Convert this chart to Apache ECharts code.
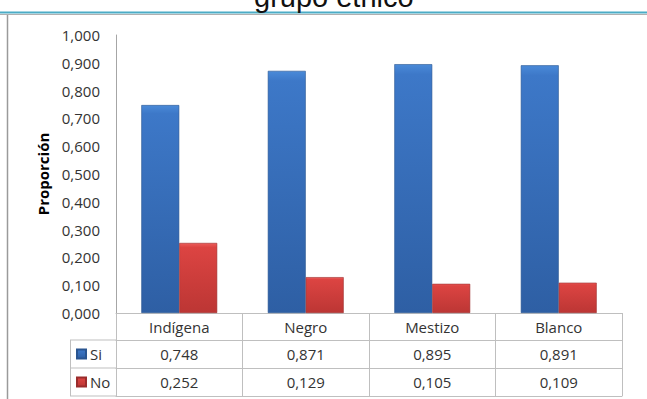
<!DOCTYPE html>
<html>
<head>
<meta charset="utf-8">
<script src="https://cdn.jsdelivr.net/npm/echarts@6/dist/echarts.min.js"></script>
<style>
html,body{margin:0;padding:0;background:#fff;}
#c{width:647px;height:399px;}
</style>
</head>
<body>
<div id="c"></div>
<script>
var titleText = 'grupo étnico';
var categories = ['Indígena', 'Negro', 'Mestizo', 'Blanco'];
var seriesNames = ['Si', 'No'];
var siValues = [0.748, 0.871, 0.895, 0.891];
var noValues = [0.252, 0.129, 0.105, 0.109];
var yTickLabels = ['0,000','0,100','0,200','0,300','0,400','0,500','0,600','0,700','0,800','0,900','1,000'];
var yAxisName = 'Proporción';

function fmt(v){ return v.toFixed(3).replace('.', ','); }

var FONT = 'Open Sans';
var TXT = '#333333';
var GRID_LINE = '#bfbfbf';

var chart = echarts.init(document.getElementById('c'), null, {renderer: 'svg'});

var blueGrad = new echarts.graphic.LinearGradient(0, 0, 0, 1, [
  {offset: 0, color: '#4a8ad8'},
  {offset: 0.04, color: '#3d78c8'},
  {offset: 1, color: '#2e5fa4'}
]);
var redGrad = new echarts.graphic.LinearGradient(0, 0, 0, 1, [
  {offset: 0, color: '#ec5c5a'},
  {offset: 0.06, color: '#dc4442'},
  {offset: 1, color: '#bc3634'}
]);

function tableAxis(data, offset, tickLen, showLabel) {
  return {
    type: 'category',
    position: 'bottom',
    offset: offset,
    data: data,
    boundaryGap: true,
    axisLine: {show: true, lineStyle: {color: GRID_LINE, width: 1}},
    axisTick: {show: tickLen > 0, length: tickLen, lineStyle: {color: GRID_LINE, width: 1}},
    axisLabel: {show: showLabel, interval: 0, margin: 5, fontFamily: FONT, fontSize: 15, color: TXT, lineHeight: 18},
    splitLine: {show: false}
  };
}

var option = {
  backgroundColor: '#ffffff',
  animation: false,
  title: {
    text: titleText,
    left: 249,
    top: -23,
    textStyle: {fontFamily: 'Liberation Sans', fontSize: 29, fontWeight: 'normal', color: '#111111'}
  },
  legend: {
    data: seriesNames,
    orient: 'vertical',
    left: 76,
    top: 345,
    padding: 0,
    height: 54,
    itemWidth: 9,
    itemHeight: 9,
    itemGap: 10,
    icon: 'rect',
    textStyle: {fontFamily: FONT, fontSize: 15, color: TXT, lineHeight: 18, padding: [0, 0, 0, -1]}
  },
  grid: {left: 116, right: 25, top: 35, bottom: 86, containLabel: false},
  xAxis: [
    tableAxis(categories, 0, 27, true),
    tableAxis(siValues.map(fmt), 27, 28, true),
    tableAxis(noValues.map(fmt), 55, 28, true),
    tableAxis(categories, 83, 0, false)
  ],
  yAxis: {
    type: 'value',
    min: 0,
    max: 1,
    interval: 0.1,
    name: yAxisName,
    nameLocation: 'middle',
    nameGap: 64,
    nameRotate: 90,
    nameTextStyle: {fontFamily: FONT, fontSize: 15, fontWeight: 'bold', color: '#000000'},
    axisLine: {show: true, lineStyle: {color: '#a6a6a6', width: 1}},
    axisTick: {show: false},
    splitLine: {show: false},
    axisLabel: {
      margin: 16,
      fontFamily: FONT,
      fontSize: 15,
      color: TXT,
      formatter: function (v) { return yTickLabels[Math.round(v * 10)]; }
    }
  },
  series: [
    {
      name: seriesNames[0],
      type: 'bar',
      xAxisIndex: 0,
      data: siValues,
      barCategoryGap: '40%',
      barGap: '0%',
      itemStyle: {color: blueGrad, borderColor: '#2a5590', borderWidth: 0.6}
    },
    {
      name: seriesNames[1],
      type: 'bar',
      xAxisIndex: 0,
      data: noValues,
      barCategoryGap: '40%',
      barGap: '0%',
      itemStyle: {color: redGrad, borderColor: '#9a2c2c', borderWidth: 0.6}
    }
  ],
  graphic: [
    {type: 'line', shape: {x1: 7.5, y1: 14, x2: 7.5, y2: 399}, style: {stroke: '#9a9a9a', lineWidth: 1.5}, silent: true},
    {type: 'line', shape: {x1: 0, y1: 14.5, x2: 647, y2: 14.5}, style: {stroke: '#b0b0b0', lineWidth: 1}, silent: true},
    {type: 'line', shape: {x1: 0, y1: 12.5, x2: 647, y2: 12.5}, style: {stroke: '#4bacc6', lineWidth: 2.2}, silent: true},
    {type: 'line', shape: {x1: 70, y1: 340, x2: 116, y2: 340}, style: {stroke: GRID_LINE, lineWidth: 1}, silent: true},
    {type: 'line', shape: {x1: 70, y1: 368, x2: 116, y2: 368}, style: {stroke: GRID_LINE, lineWidth: 1}, silent: true},
    {type: 'line', shape: {x1: 70, y1: 396, x2: 116, y2: 396}, style: {stroke: GRID_LINE, lineWidth: 1}, silent: true},
    {type: 'line', shape: {x1: 70.5, y1: 340, x2: 70.5, y2: 396}, style: {stroke: GRID_LINE, lineWidth: 1}, silent: true}
  ]
};

chart.setOption(option);
</script>
</body>
</html>
